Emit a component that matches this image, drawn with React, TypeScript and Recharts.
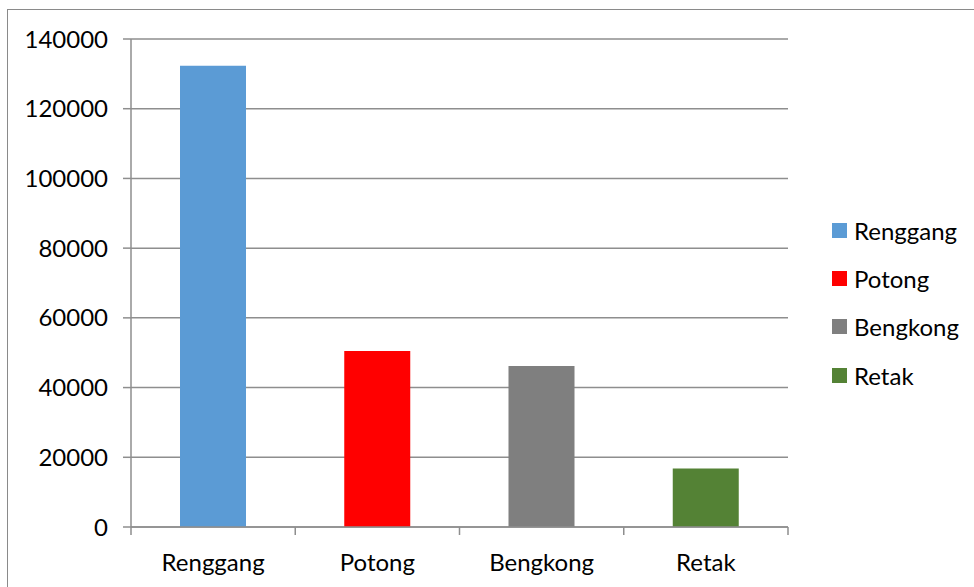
import React from 'react';
import { BarChart, Bar, XAxis, YAxis, CartesianGrid, Cell } from 'recharts';

const CATEGORIES = ['Renggang', 'Potong', 'Bengkong', 'Retak'];
const VALUES = [132300, 50500, 46200, 16800];
const COLORS = ['#5B9BD5', '#FF0000', '#7F7F7F', '#548235'];
const Y_TICKS = [0, 20000, 40000, 60000, 80000, 100000, 120000, 140000];
const BOUNDARY_TICKS = [0, 1, 2, 3, 4];

const FONT = 'Lato, "Open Sans", sans-serif';
const GRID = '#8E8E8E';

const data = CATEGORIES.map((name, i) => ({ name, idx: i + 0.5, value: VALUES[i] }));

// legend sits in the right-hand gutter, outside the plot area
function LegendBox() {
    return (
        <div style={{ position: 'absolute', left: 832, top: 206, fontFamily: FONT, fontSize: 24, color: '#000' }}>
            {CATEGORIES.map((c, i) => (
                <div key={c} style={{ display: 'flex', alignItems: 'center', height: 48.4 }}>
                    <div style={{ width: 15, height: 15, background: COLORS[i], marginRight: 7 }} />
                    <span>{c}</span>
                </div>
            ))}
        </div>
    );
}

const NoLabel = () => <g />;

export default function App() {
    return (
        <div style={{ position: 'fixed', left: 0, top: 0, width: 974, height: 587, overflow: 'hidden', background: '#fff' }}>
            <div style={{ position: 'absolute', left: 7, top: 9, width: 1200, height: 800, border: '1px solid #8A8A8A' }} />
            <div style={{ position: 'absolute', left: 0, top: 0 }}>
                <BarChart width={974} height={587} data={data} margin={{ top: 39, right: 186, left: 0, bottom: 0 }}>
                    <CartesianGrid horizontal vertical={false} stroke={GRID} strokeWidth={1.5} />
                    {/* axis line plus short ticks on the category boundaries */}
                    <XAxis
                        xAxisId="aEdge"
                        type="number"
                        dataKey="idx"
                        domain={[0, 4]}
                        ticks={BOUNDARY_TICKS}
                        interval={0}
                        height={1}
                        axisLine={{ stroke: GRID, strokeWidth: 1.5 }}
                        tick={<NoLabel />}
                        tickLine={{ stroke: GRID, strokeWidth: 1.5 }}
                        tickSize={8}
                        orientation="bottom"
                    />
                    <XAxis
                        xAxisId="bCat"
                        dataKey="name"
                        height={59}
                        tickLine={false}
                        axisLine={false}
                        tickSize={0}
                        tickMargin={26}
                        tick={{ fontSize: 24, fill: '#000', fontFamily: FONT }}
                        interval={0}
                    />
                    <YAxis
                        width={131}
                        domain={[0, 140000]}
                        ticks={Y_TICKS}
                        interval={0}
                        axisLine={{ stroke: GRID, strokeWidth: 1.5 }}
                        tickLine={{ stroke: GRID, strokeWidth: 1.5 }}
                        tickSize={8}
                        tickMargin={15}
                        tick={{ fontSize: 24, fill: '#000', fontFamily: FONT }}
                    />
                    <Bar xAxisId="bCat" dataKey="value" barSize={66} isAnimationActive={false}>
                        {data.map((d, i) => (
                            <Cell key={d.name} fill={COLORS[i]} />
                        ))}
                    </Bar>
                </BarChart>
            </div>
            <LegendBox />
        </div>
    );
}
